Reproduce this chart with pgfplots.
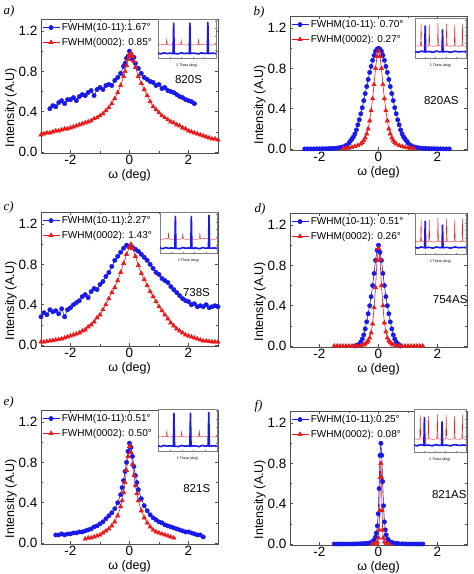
\documentclass[border=0pt]{standalone}
\usepackage{pgfplots}
\pgfplotsset{compat=1.18}
\usepackage{pgfplotstable}
\usepackage{fontspec}
\setmainfont{Liberation Sans}
\newfontfamily\serifit{Liberation Serif}
\definecolor{blueC}{RGB}{25,25,235}
\definecolor{redC}{RGB}{235,25,25}
\definecolor{frameC}{RGB}{80,80,80}

\pgfplotstableread{
x y
0 0.13
5 0.11
10 0.14
15 0.12
20 0.13
26 0.12
27 0.95
28 0.12
35 0.11
40 0.14
45 0.12
50 0.13
54 0.12
55 0.95
56 0.12
62 0.13
70 0.11
75 0.14
80 0.12
85 0.13
86 0.97
87 0.12
95 0.13
100 0.12
}\insAblue
\pgfplotstableread{
x y
0 0.36
5 0.35
10 0.37
14 0.36
15 0.50
16 0.36
20 0.35
26 0.36
27 0.52
28 0.36
33 0.35
39 0.37
40 0.48
41 0.36
47 0.35
54 0.36
55 0.55
56 0.36
62 0.35
69 0.36
70 0.50
71 0.36
78 0.37
85 0.36
86 0.53
87 0.36
93 0.35
100 0.36
}\insAred
\pgfplotstableread{
x y
0 0.32
8 0.31
11 0.32
12 0.90
13 0.32
20 0.31
27 0.32
28 0.88
29 0.32
36 0.31
44 0.32
45 0.92
46 0.32
53 0.31
61 0.32
62 0.90
63 0.32
70 0.31
77 0.32
78 0.88
79 0.32
86 0.31
92 0.32
93 0.90
94 0.32
100 0.31
}\insBred
\pgfplotstableread{
x y
0 0.17
6 0.15
12 0.18
19 0.16
20 0.85
21 0.16
28 0.17
35 0.15
42 0.18
49 0.16
53 0.17
54 0.75
55 0.16
62 0.17
70 0.15
78 0.18
86 0.16
94 0.17
100 0.16
}\insBblue

\pgfplotsset{
  main/.style={scale only axis, width=177pt, height=134pt,
    xmin=-3, xmax=3, ymin=-0.01, ymax=1.32,
    xtick={-2,0,2}, ytick={0,0.4,0.8,1.2},
    minor x tick num=1, minor y tick num=1,
    yticklabel style={/pgf/number format/fixed,/pgf/number format/fixed zerofill,/pgf/number format/precision=1},
    /pgf/number format/assume math mode=true,
    tick align=inside, tick pos=both,
    major tick length=3pt, minor tick length=1.8pt,
    axis line style={frameC, line width=0.7pt},
    every tick/.style={frameC, line width=0.5pt},
    tick label style={font=\fontsize{13.5}{14}\selectfont},
    label style={font=\fontsize{12.5}{13}\selectfont},
    xlabel={ω (deg)}, ylabel={Intensity (A.U)},
    xlabel style={yshift=2.5pt},
    ylabel style={at={(ticklabel cs:0.34)}, yshift=-5pt},
    xticklabel style={yshift=1pt},
    legend style={at={(0,1)}, anchor=north west, draw=none, fill=none,
      font=\fontsize{10}{10.5}\selectfont, inner sep=1pt, row sep=2pt,
      legend cell align=left, yshift=-1pt},
  },
  bl/.style={color=blueC, mark=*, mark size=2.1pt, line width=0.6pt, mark options={solid}},
  rd/.style={color=redC, mark=triangle*, mark size=2.4pt, line width=0.6pt, mark options={solid}},
  inset/.style={scale only axis, anchor=north east, xmin=0, xmax=100, ymin=0, ymax=1.05,
    axis background/.style={fill=white},
    axis line style={gray, line width=0.3pt},
    xtick={0,20,40,60,80,100}, ytick={0,0.2,0.4,0.6,0.8,1.0},
    xticklabels={}, yticklabels={},
    tick align=inside, tick pos=both, major tick length=1pt,
    every tick/.style={gray, line width=0.2pt},
    xlabel={2 Theta (deg)}, xlabel style={font=\fontsize{3.5}{4}\selectfont, yshift=4pt},
  },
  ib/.style={color=blueC, line width=1.6pt, mark=none},
  ir/.style={color=redC, line width=0.4pt, mark=none},
  tall/.style={color=blueC, line width=0.4pt, mark=none},
}

\begin{document}
\begin{tikzpicture}
\useasboundingbox (0,0) rectangle (474pt,574pt);

% ---------------- a) 820S
\begin{axis}[main, at={(41pt,421pt)}, anchor=south west]
\addplot[bl] coordinates {(-2.7,0.43)(-2.6,0.46)(-2.5,0.45)(-2.4,0.49)(-2.3,0.51)(-2.2,0.48)(-2.1,0.52)(-2.0,0.52)(-1.9,0.54)(-1.8,0.51)(-1.7,0.55)(-1.6,0.57)(-1.5,0.56)(-1.4,0.59)(-1.3,0.61)(-1.2,0.56)(-1.1,0.62)(-1.0,0.64)(-0.9,0.62)(-0.8,0.66)(-0.7,0.67)(-0.6,0.66)(-0.5,0.71)(-0.4,0.74)(-0.3,0.78)(-0.2,0.85)(-0.15,0.88)(-0.1,0.93)(-0.05,0.95)(0.0,1.00)(0.05,0.97)(0.1,0.92)(0.15,0.94)(0.2,0.88)(0.3,0.83)(0.4,0.78)(0.5,0.74)(0.6,0.72)(0.7,0.70)(0.8,0.69)(0.9,0.66)(1.0,0.67)(1.1,0.63)(1.2,0.64)(1.3,0.61)(1.4,0.60)(1.5,0.59)(1.6,0.57)(1.7,0.55)(1.8,0.54)(1.9,0.52)(2.0,0.51)(2.1,0.50)(2.2,0.48)};
\addlegendentry{FWHM(10-11):1.67°}
\addplot[rd] coordinates {(-3.0,0.17)(-2.9,0.18)(-2.8,0.19)(-2.7,0.19)(-2.6,0.20)(-2.5,0.21)(-2.4,0.21)(-2.3,0.22)(-2.2,0.23)(-2.1,0.23)(-2.0,0.24)(-1.9,0.25)(-1.8,0.26)(-1.7,0.27)(-1.6,0.28)(-1.5,0.29)(-1.4,0.30)(-1.3,0.31)(-1.2,0.33)(-1.1,0.34)(-1.0,0.36)(-0.9,0.38)(-0.8,0.41)(-0.7,0.44)(-0.6,0.48)(-0.5,0.53)(-0.4,0.59)(-0.3,0.66)(-0.2,0.75)(-0.15,0.80)(-0.1,0.86)(-0.05,0.92)(0.0,0.96)(0.05,0.98)(0.1,0.95)(0.15,0.90)(0.2,0.84)(0.3,0.75)(0.4,0.68)(0.5,0.62)(0.6,0.56)(0.7,0.50)(0.8,0.45)(0.9,0.42)(1.0,0.39)(1.1,0.36)(1.2,0.34)(1.3,0.32)(1.4,0.30)(1.5,0.29)(1.6,0.27)(1.7,0.26)(1.8,0.24)(1.9,0.23)(2.0,0.21)(2.1,0.20)(2.2,0.19)(2.3,0.18)(2.4,0.17)(2.5,0.16)(2.6,0.15)(2.7,0.14)(2.8,0.13)(2.9,0.13)(3.0,0.12)};
\addlegendentry{FWHM(0002): 0.85°}
\node[font=\fontsize{11.5}{12}\selectfont] at (axis cs:2.0,0.72) {820S};
\end{axis}
\begin{axis}[inset, at={(216pt,555pt)}, width=58pt, height=39pt]
\addplot[ir] table {\insAred};
\addplot[ib] table {\insAblue};
\addplot[tall] table {\insAblue};
\end{axis}

% ---------------- b) 820AS
\begin{axis}[main, at={(290pt,424pt)}, anchor=south west]
\addplot[bl] coordinates {(-2.5,0.001)(-2.4,0.001)(-2.3,0.001)(-2.2,0.001)(-2.1,0.002)(-2.0,0.002)(-1.9,0.003)(-1.8,0.003)(-1.7,0.004)(-1.6,0.005)(-1.5,0.007)(-1.4,0.01)(-1.3,0.015)(-1.2,0.022)(-1.1,0.035)(-1.0,0.06)(-0.95,0.08)(-0.9,0.10)(-0.85,0.12)(-0.8,0.15)(-0.75,0.19)(-0.7,0.24)(-0.65,0.29)(-0.6,0.35)(-0.55,0.41)(-0.5,0.48)(-0.45,0.55)(-0.4,0.62)(-0.35,0.69)(-0.3,0.76)(-0.25,0.82)(-0.2,0.88)(-0.15,0.93)(-0.1,0.97)(-0.05,0.99)(0,1.0)(0.05,0.99)(0.1,0.97)(0.15,0.93)(0.2,0.88)(0.25,0.82)(0.3,0.76)(0.35,0.69)(0.4,0.62)(0.45,0.55)(0.5,0.48)(0.55,0.41)(0.6,0.35)(0.65,0.29)(0.7,0.24)(0.75,0.19)(0.8,0.15)(0.85,0.12)(0.9,0.10)(0.95,0.08)(1.0,0.06)(1.1,0.035)(1.2,0.022)(1.3,0.015)(1.4,0.01)(1.5,0.007)(1.6,0.005)(1.7,0.004)(1.8,0.003)(1.9,0.003)(2.0,0.002)(2.1,0.002)(2.2,0.001)(2.3,0.001)(2.4,0.001)};
\addlegendentry{FWHM(10-11): 0.70°}
\addplot[rd] coordinates {(-1.2,0.005)(-1.1,0.008)(-1.0,0.012)(-0.9,0.018)(-0.8,0.025)(-0.7,0.035)(-0.6,0.05)(-0.55,0.065)(-0.5,0.085)(-0.45,0.11)(-0.4,0.15)(-0.35,0.20)(-0.3,0.28)(-0.25,0.38)(-0.2,0.50)(-0.15,0.64)(-0.1,0.80)(-0.05,0.92)(0,0.97)(0.05,0.92)(0.1,0.80)(0.15,0.64)(0.2,0.50)(0.25,0.38)(0.3,0.28)(0.35,0.20)(0.4,0.15)(0.45,0.11)(0.5,0.085)(0.55,0.065)(0.6,0.05)(0.7,0.035)(0.8,0.025)(0.9,0.018)(1.0,0.012)(1.1,0.008)(1.2,0.005)};
\addlegendentry{FWHM(0002): 0.27°}
\node[font=\fontsize{11.5}{12}\selectfont] at (axis cs:2.13,0.48) {820AS};
\end{axis}
\begin{axis}[inset, at={(466pt,556pt)}, width=51pt, height=40pt]
\addplot[ib] table {\insBblue};
\addplot[tall] table {\insBblue};
\addplot[ir] table {\insBred};
\end{axis}

% ---------------- c) 738S
\begin{axis}[main, at={(41pt,228pt)}, anchor=south west]
\addplot[bl] coordinates {(-3.0,0.28)(-2.9,0.32)(-2.8,0.30)(-2.7,0.35)(-2.6,0.33)(-2.5,0.34)(-2.4,0.31)(-2.3,0.36)(-2.2,0.28)(-2.1,0.35)(-2.0,0.37)(-1.9,0.40)(-1.8,0.42)(-1.7,0.44)(-1.6,0.48)(-1.5,0.50)(-1.4,0.47)(-1.3,0.53)(-1.2,0.56)(-1.1,0.55)(-1.0,0.60)(-0.9,0.63)(-0.8,0.68)(-0.7,0.72)(-0.6,0.78)(-0.5,0.84)(-0.4,0.88)(-0.3,0.92)(-0.2,0.96)(-0.1,0.99)(0.0,0.98)(0.1,0.97)(0.2,0.95)(0.3,0.93)(0.4,0.90)(0.5,0.87)(0.6,0.84)(0.7,0.80)(0.8,0.76)(0.9,0.72)(1.0,0.70)(1.1,0.66)(1.2,0.64)(1.3,0.62)(1.4,0.58)(1.5,0.55)(1.6,0.52)(1.7,0.49)(1.8,0.46)(1.9,0.44)(2.0,0.43)(2.1,0.40)(2.2,0.41)(2.3,0.38)(2.4,0.39)(2.5,0.38)(2.6,0.40)(2.7,0.37)(2.8,0.38)(2.9,0.39)(3.0,0.38)};
\addlegendentry{FWHM(10-11):2.27°}
\addplot[rd] coordinates {(-3.0,0.03)(-2.9,0.03)(-2.8,0.035)(-2.7,0.04)(-2.6,0.045)(-2.5,0.05)(-2.4,0.055)(-2.3,0.06)(-2.2,0.07)(-2.1,0.08)(-2.0,0.09)(-1.9,0.10)(-1.8,0.11)(-1.7,0.12)(-1.6,0.14)(-1.5,0.15)(-1.4,0.18)(-1.3,0.20)(-1.2,0.23)(-1.1,0.27)(-1.0,0.30)(-0.9,0.35)(-0.8,0.40)(-0.7,0.46)(-0.6,0.52)(-0.5,0.57)(-0.4,0.64)(-0.3,0.72)(-0.2,0.81)(-0.1,0.90)(0.0,0.97)(0.05,1.0)(0.1,0.96)(0.2,0.88)(0.3,0.79)(0.4,0.71)(0.5,0.65)(0.6,0.59)(0.7,0.53)(0.8,0.48)(0.9,0.43)(1.0,0.38)(1.1,0.34)(1.2,0.30)(1.3,0.26)(1.4,0.22)(1.5,0.19)(1.6,0.16)(1.7,0.14)(1.8,0.12)(1.9,0.10)(2.0,0.09)(2.1,0.08)(2.2,0.07)(2.3,0.06)(2.4,0.05)(2.5,0.04)(2.6,0.04)(2.7,0.035)(2.8,0.03)(2.9,0.03)(3.0,0.03)};
\addlegendentry{FWHM(0002): 1.43°}
\node[font=\fontsize{11.5}{12}\selectfont] at (axis cs:2.27,0.52) {738S};
\end{axis}
\begin{axis}[inset, at={(217pt,362pt)}, width=57pt, height=41pt]
\addplot[ir] table {\insAred};
\addplot[ib] table {\insAblue};
\addplot[tall] table {\insAblue};
\end{axis}

% ---------------- d) 754AS
\begin{axis}[main, at={(290pt,227pt)}, anchor=south west]
\addplot[bl] coordinates {(-0.8,0.0)(-0.75,0.005)(-0.7,0.01)(-0.65,0.02)(-0.6,0.04)(-0.55,0.07)(-0.5,0.11)(-0.45,0.17)(-0.4,0.24)(-0.35,0.32)(-0.3,0.40)(-0.25,0.49)(-0.2,0.60)(-0.15,0.72)(-0.1,0.85)(-0.05,0.95)(0,1.0)(0.05,0.93)(0.1,0.85)(0.15,0.72)(0.2,0.60)(0.25,0.49)(0.3,0.40)(0.35,0.32)(0.4,0.24)(0.45,0.17)(0.5,0.11)(0.55,0.07)(0.6,0.04)(0.65,0.02)(0.7,0.01)(0.75,0.0)};
\addlegendentry{FWHM(10-11): 0.51°}
\addplot[rd] coordinates {(-1.5,0)(-1.4,0)(-1.3,0)(-1.2,0)(-1.1,0)(-1.0,0)(-0.9,0)(-0.8,0)(-0.7,0)(-0.6,0.003)(-0.5,0.01)(-0.45,0.02)(-0.4,0.035)(-0.35,0.05)(-0.3,0.08)(-0.25,0.13)(-0.2,0.22)(-0.15,0.38)(-0.1,0.58)(-0.05,0.85)(0,0.97)(0.05,0.86)(0.1,0.60)(0.15,0.40)(0.2,0.23)(0.25,0.14)(0.3,0.08)(0.35,0.05)(0.4,0.035)(0.45,0.02)(0.5,0.01)(0.6,0.003)(0.7,0)(0.8,0)(0.9,0)(1.0,0)(1.1,0)(1.2,0)(1.3,0)(1.4,0)(1.5,0)};
\addlegendentry{FWHM(0002): 0.26°}
\node[font=\fontsize{11.5}{12}\selectfont] at (axis cs:2.43,0.46) {754AS};
\end{axis}
\begin{axis}[inset, at={(466pt,361pt)}, width=51pt, height=41pt]
\addplot[ib] table {\insBblue};
\addplot[tall] table {\insBblue};
\addplot[ir] table {\insBred};
\end{axis}

% ---------------- e) 821S
\begin{axis}[main, at={(41pt,30pt)}, anchor=south west]
\addplot[bl] coordinates {(-2.5,0.08)(-2.4,0.08)(-2.3,0.09)(-2.2,0.08)(-2.1,0.09)(-2.0,0.09)(-1.9,0.10)(-1.8,0.10)(-1.7,0.11)(-1.6,0.11)(-1.5,0.12)(-1.4,0.13)(-1.3,0.14)(-1.2,0.16)(-1.1,0.17)(-1.0,0.19)(-0.9,0.21)(-0.8,0.24)(-0.7,0.27)(-0.6,0.30)(-0.5,0.34)(-0.4,0.40)(-0.3,0.48)(-0.25,0.55)(-0.2,0.62)(-0.15,0.71)(-0.1,0.80)(-0.05,0.91)(0,0.99)(0.05,0.95)(0.1,0.86)(0.15,0.76)(0.2,0.67)(0.25,0.60)(0.3,0.53)(0.4,0.44)(0.5,0.37)(0.6,0.32)(0.7,0.28)(0.8,0.25)(0.9,0.23)(1.0,0.21)(1.1,0.20)(1.2,0.18)(1.3,0.17)(1.4,0.16)(1.5,0.15)(1.6,0.14)(1.7,0.13)(1.8,0.12)(1.9,0.11)(2.0,0.11)(2.1,0.10)(2.2,0.09)(2.3,0.08)(2.4,0.08)(2.5,0.06)};
\addlegendentry{FWHM(10-11):0.51°}
\addplot[rd] coordinates {(-1.5,0.04)(-1.4,0.05)(-1.3,0.05)(-1.2,0.06)(-1.1,0.07)(-1.0,0.08)(-0.9,0.10)(-0.8,0.12)(-0.7,0.14)(-0.6,0.17)(-0.5,0.21)(-0.4,0.27)(-0.3,0.36)(-0.25,0.42)(-0.2,0.50)(-0.15,0.60)(-0.1,0.72)(-0.05,0.86)(0,0.96)(0.05,0.90)(0.1,0.78)(0.15,0.67)(0.2,0.57)(0.25,0.49)(0.3,0.42)(0.4,0.32)(0.5,0.25)(0.6,0.20)(0.7,0.16)(0.8,0.13)(0.9,0.11)(1.0,0.10)(1.1,0.09)(1.2,0.08)(1.3,0.07)(1.4,0.06)(1.5,0.05)};
\addlegendentry{FWHM(0002): 0.50°}
\node[font=\fontsize{11.5}{12}\selectfont] at (axis cs:2.28,0.54) {821S};
\end{axis}
\begin{axis}[inset, at={(217pt,165pt)}, width=59pt, height=42pt]
\addplot[ir] table {\insAred};
\addplot[ib] table {\insAblue};
\addplot[tall] table {\insAblue};
\end{axis}

% ---------------- f) 821AS
\begin{axis}[main, at={(290pt,29pt)}, anchor=south west]
\addplot[bl] coordinates {(-1.5,0)(-1.4,0)(-1.3,0)(-1.2,0)(-1.1,0)(-1.0,0)(-0.9,0)(-0.8,0.001)(-0.7,0.002)(-0.6,0.003)(-0.5,0.005)(-0.4,0.008)(-0.3,0.012)(-0.2,0.025)(-0.15,0.04)(-0.1,0.07)(-0.07,0.11)(-0.04,0.18)(-0.01,0.30)(0.02,0.55)(0.05,0.88)(0.08,1.0)(0.11,0.88)(0.14,0.62)(0.17,0.38)(0.2,0.22)(0.23,0.14)(0.26,0.09)(0.31,0.05)(0.36,0.03)(0.46,0.015)(0.56,0.008)(0.66,0.005)(0.8,0.002)(0.9,0.001)(1.0,0)(1.1,0)(1.2,0)(1.3,0)(1.4,0)(1.5,0)};
\addlegendentry{FWHM(10-11):0.25°}
\addplot[rd] coordinates {(-0.2,0)(-0.1,0.005)(-0.04,0.02)(0.0,0.06)(0.02,0.14)(0.04,0.33)(0.06,0.66)(0.08,0.80)(0.10,0.66)(0.12,0.33)(0.14,0.14)(0.16,0.06)(0.2,0.02)(0.26,0.005)(0.36,0)};
\addlegendentry{FWHM(0002): 0.08°}
\node[font=\fontsize{11.5}{12}\selectfont] at (axis cs:2.4,0.49) {821AS};
\end{axis}
\begin{axis}[inset, at={(466pt,165pt)}, width=52pt, height=43pt]
\addplot[ib] table {\insBblue};
\addplot[tall] table {\insBblue};
\addplot[ir] table {\insBred};
\end{axis}

% panel letters
\node[font=\serifit\itshape\fontsize{13}{14}\selectfont, anchor=west] at (0pt,563pt) {a)};
\node[font=\serifit\itshape\fontsize{13}{14}\selectfont, anchor=west] at (250pt,562pt) {b)};
\node[font=\serifit\itshape\fontsize{13}{14}\selectfont, anchor=west] at (0pt,367pt) {c)};
\node[font=\serifit\itshape\fontsize{13}{14}\selectfont, anchor=west] at (251pt,365pt) {d)};
\node[font=\serifit\itshape\fontsize{13}{14}\selectfont, anchor=west] at (0pt,172pt) {e)};
\node[font=\serifit\itshape\fontsize{13}{14}\selectfont, anchor=west] at (251pt,168pt) {f)};
\end{tikzpicture}
\end{document}
